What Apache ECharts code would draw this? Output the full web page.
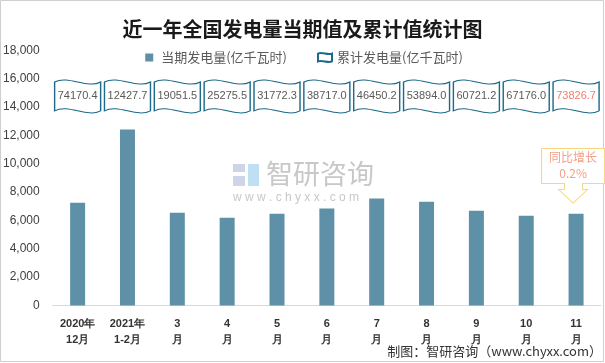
<!DOCTYPE html>
<html><head><meta charset="utf-8">
<script src="https://cdn.jsdelivr.net/npm/echarts@6/dist/echarts.min.js"></script>
<style>html,body{margin:0;padding:0;background:#fff}#c{width:605px;height:363px}</style>
</head><body><div id="c"></div>
<script>
const categories = ['2020年\n12月','2021年\n1-2月','3\n月','4\n月','5\n月','6\n月','7\n月','8\n月','9\n月','10\n月','11\n月'];
const monthly = [7250, 12427.7, 6550, 6200, 6480, 6850, 7560, 7330, 6690, 6340, 6480];
const cumulative = ['74170.4','12427.7','19051.5','25275.5','31772.3','38717.0','46450.2','53894.0','60721.2','67176.0','73826.7'];
const yTicks = [0,2000,4000,6000,8000,10000,12000,14000,16000,18000];
const growthNote = {label:'同比增长', value:'0.2%'};

const FLAG_LEVEL = 14760;
const flagPath = 'path://M0,8 C30,-6 70,22 100,8 L100,64 C70,78 30,50 0,64 Z';
const calloutPath = 'path://M0,0 H63 V35 H41 V41 H46 L31.5,54.5 L17,41 H23 V35 H0 Z';
const barColor = '#5e91a7';

const chart = echarts.init(document.getElementById('c'));
chart.setOption({
  animation:false,
  backgroundColor:'#fff',
  title:{text:'近一年全国发电量当期值及累计值统计图', left:'center', top:14,
    textStyle:{fontFamily:'Noto Sans CJK SC', fontWeight:'bold', fontSize:20, color:'#1a1a1a'}},
  legend:{top:46, left:'center', itemGap:30, itemWidth:14, itemHeight:11,
    textStyle:{fontFamily:'Noto Sans CJK SC', fontSize:13, color:'#595959'},
    data:[{name:'当期发电量(亿千瓦时)', icon:'path://M0,0M14,11M3,1.5h8v8h-8z'},
          {name:'累计发电量(亿千瓦时)', icon:flagPath}]},
  grid:{left:49, right:4, top:50.5, bottom:57.5},
  xAxis:{type:'category', data:categories,
    axisLine:{lineStyle:{color:'#d9d9d9'}}, axisTick:{show:false},
    axisLabel:{interval:0, margin:10, fontFamily:'Liberation Sans', fontWeight:'bold', fontSize:11, color:'#333', lineHeight:16}},
  yAxis:{type:'value', min:yTicks[0], max:yTicks[yTicks.length-1], interval:2000,
    splitLine:{show:false}, axisLine:{show:false}, axisTick:{show:false},
    axisLabel:{margin:13, fontFamily:'Liberation Sans', fontSize:12, color:'#404040',
      formatter:v=>v.toLocaleString('en-US')}},
  series:[
    {name:'当期发电量(亿千瓦时)', type:'bar', data:monthly, barWidth:15,
      itemStyle:{color:barColor},
      markPoint:{symbol:calloutPath, symbolSize:[63,54.5], symbolOffset:[-3,-38],
        itemStyle:{color:'#fff', borderColor:'#f9d77e', borderWidth:1},
        label:{show:true, position:'inside', offset:[0,-10], fontFamily:'Noto Sans CJK SC', fontSize:12, lineHeight:16, color:'#f4a08a',
          formatter:()=>growthNote.label+'\n'+growthNote.value},
        data:[{coord:[categories.length-1, monthly[monthly.length-1]]}]}},
    {name:'累计发电量(亿千瓦时)', type:'scatter', symbol:flagPath, symbolSize:[46,33],
      itemStyle:{color:'#fff', borderColor:'#1d6a8a', borderWidth:1.2, opacity:1},
      label:{show:true, position:'inside', fontFamily:'Liberation Sans', fontSize:11, color:'#595959',
        formatter:p=>p.data.cum},
      data:cumulative.map((c,i)=>({value:[i, FLAG_LEVEL], cum:c,
        label: i===cumulative.length-1 ? {color:'#f07e6e'} : undefined}))}
  ],
  graphic:[
    {type:'rect', shape:{x:0.5,y:0.5,width:603,height:361}, style:{fill:'none', stroke:'#cfcfcf', lineWidth:1}, silent:true},
    {type:'group', left:233, top:160, silent:true, children:[
      {type:'rect', shape:{x:0,y:2,width:12,height:8}, style:{fill:'#cdd5e6'}},
      {type:'rect', shape:{x:0,y:14,width:12,height:10}, style:{fill:'#cdd5e6'}},
      {type:'rect', shape:{x:15,y:2,width:11,height:22}, style:{fill:'#bfe0f2'}},
      {type:'text', x:33, y:-2, style:{text:'智研咨询', fontFamily:'Noto Sans CJK SC', fontSize:27, fill:'#c8c8c8'}},
      {type:'text', x:0, y:30, style:{text:'w w w . c h y x x . c o m', fontFamily:'Liberation Sans', fontSize:12, fill:'#c8c8c8'}}
    ]},
    {type:'text', right:3, top:345, style:{text:'制图：智研咨询（www.chyxx.com）', fontFamily:'Noto Sans CJK SC', fontSize:13, fill:'#333'}}
  ]
});
</script></body></html>
